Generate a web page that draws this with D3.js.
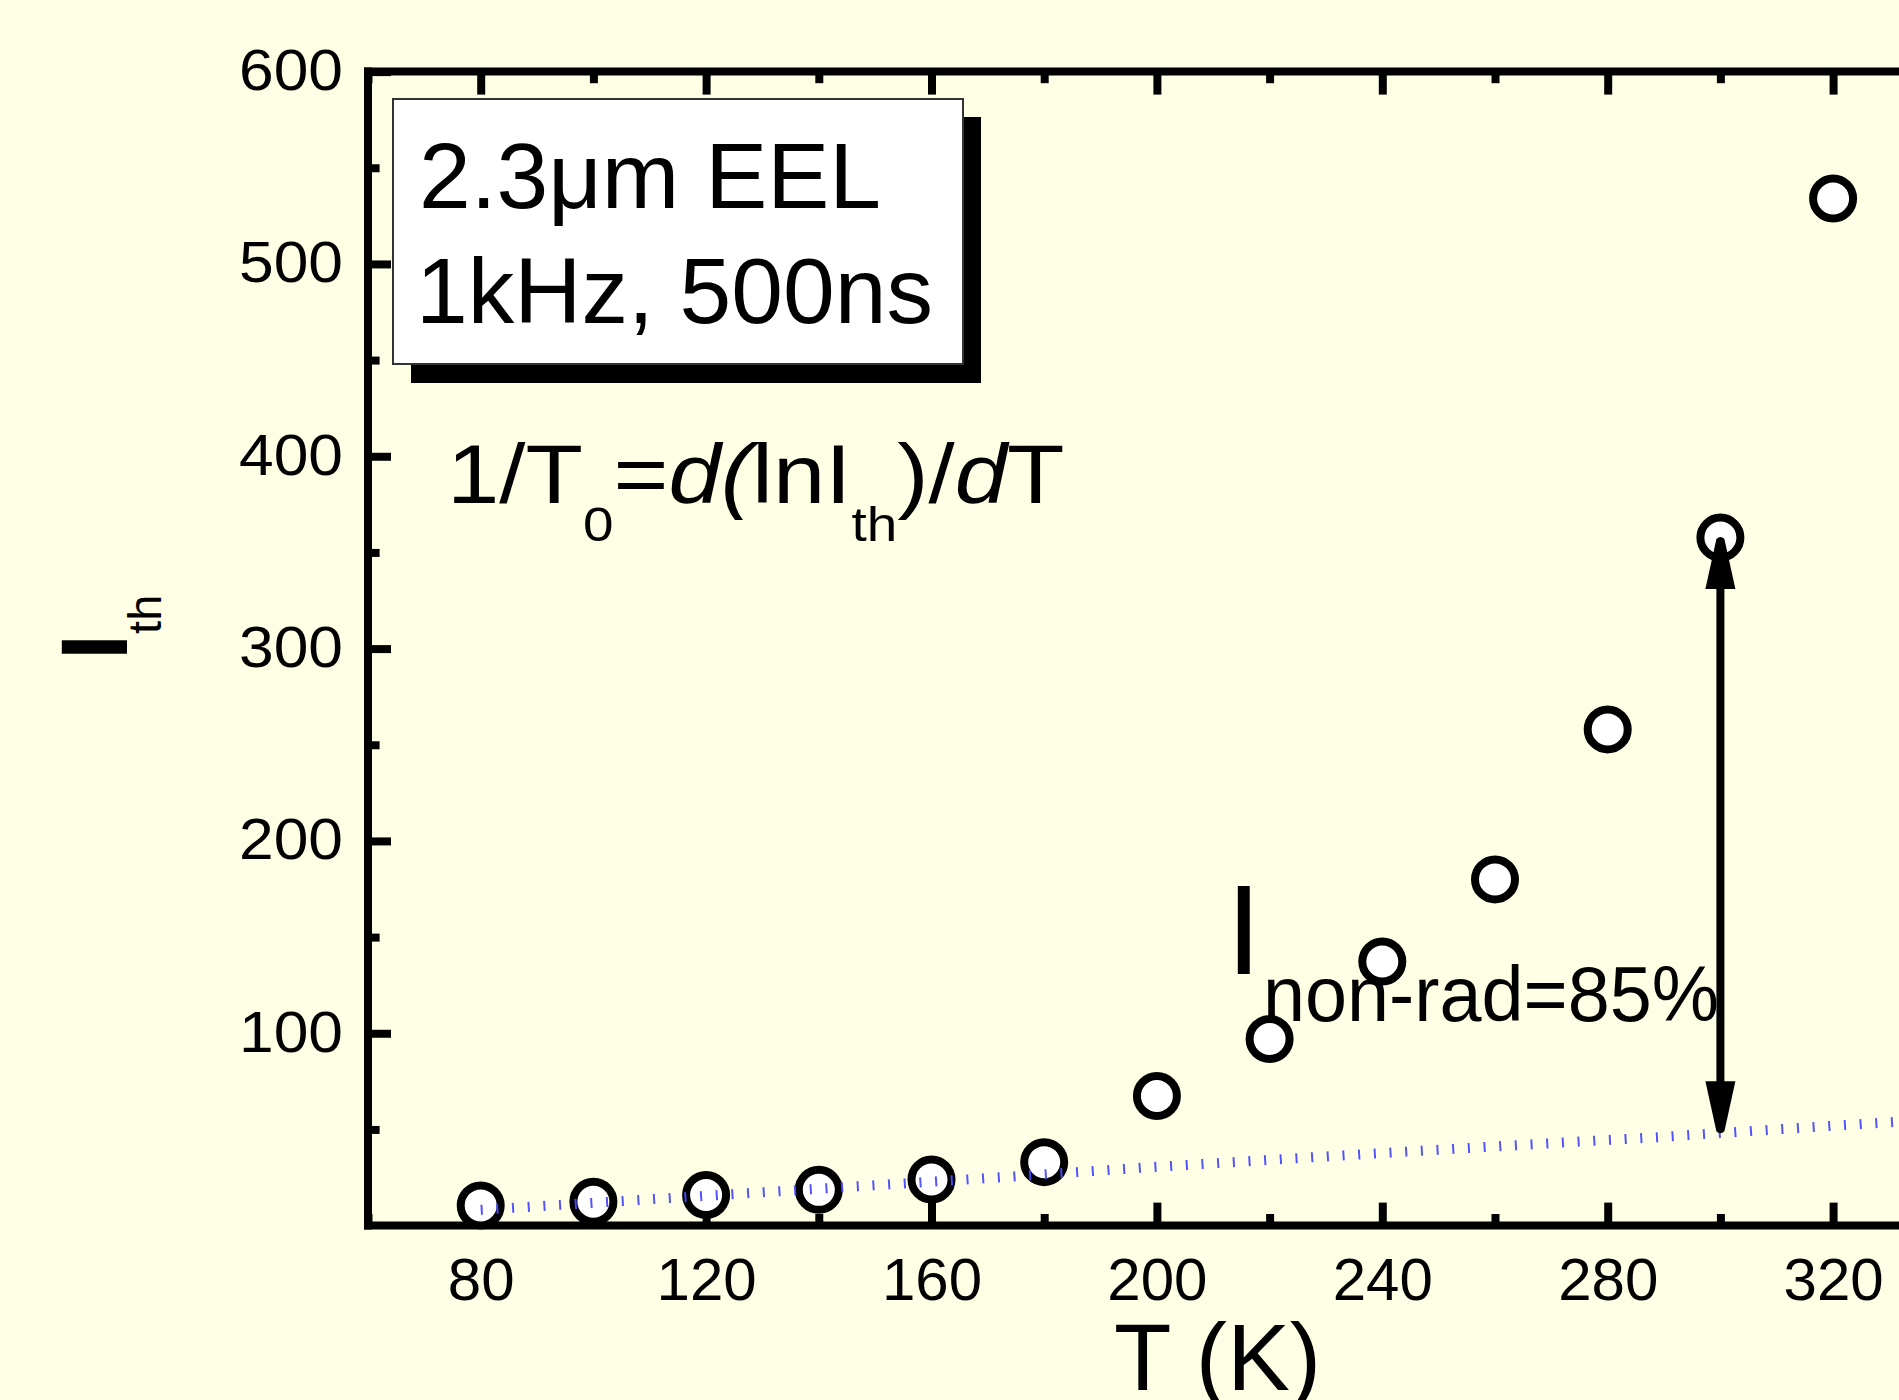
<!DOCTYPE html>
<html>
<head>
<meta charset="utf-8">
<script src="https://cdn.jsdelivr.net/npm/d3@7"></script>
<style>
  html, body { margin: 0; padding: 0; background: #FFFFE5; }
  svg { display: block; }
  text { font-family: "Liberation Sans", Arial, sans-serif; fill: #000; }
</style>
</head>
<body>
<svg id="chart" width="1899" height="1400"></svg>
<script>
// ---- data ----
const temps = [80, 100, 120, 140, 160, 180, 200, 220, 240, 260, 280, 300, 320];
const ith   = [10.5, 12.4, 15.9, 18.6, 24, 33, 67.4, 97, 137.3, 180, 258, 357.7, 534];

const fitT = [80, 108, 138, 168, 198, 228, 259, 289, 315, 340];
const fitI = [8.2, 13.3, 18.8, 24.3, 30.2, 35.6, 41, 46, 51, 55.5];

const xMajorTicks = [80, 120, 160, 200, 240, 280, 320];
const xMinorTicks = [60, 100, 140, 180, 220, 260, 300, 340];
const yMajorTicks = [100, 200, 300, 400, 500, 600];
const yMinorTicks = [50, 150, 250, 350, 450, 550];

const arrowT = 300, arrowLow = 48, arrowHigh = 358;

// ---- chart ----
const W = 1899, H = 1400;
const svg = d3.select("#chart");
svg.append("rect").attr("width", W).attr("height", H).attr("fill", "#FFFFE5");

const x = d3.scaleLinear().domain([60, 340]).range([368, 1945.8]);
const y = d3.scaleLinear().domain([0, 600]).range([1225.6, 71.6]);

const AX = 8;      // axis line width
const TW = 8;      // tick width
const MAJ = 19 + AX / 2, MIN = 7.6 + AX / 2;

function styleAxis(g) {
  g.select(".domain").remove();
  g.selectAll(".tick line").attr("stroke", "#000").attr("stroke-width", TW);
}

// bottom axis
svg.append("g").attr("transform", `translate(0,${y(0)})`)
  .call(d3.axisBottom(x).tickValues(xMajorTicks).tickSize(-MAJ).tickPadding(32).tickFormat(d3.format("d")))
  .call(styleAxis)
  .call(g => g.selectAll("text").attr("font-size", 60).attr("font-family", "Liberation Sans, Arial, sans-serif").attr("fill", "#000"));
svg.append("g").attr("transform", `translate(0,${y(0)})`)
  .call(d3.axisBottom(x).tickValues(xMinorTicks).tickSize(-MIN).tickFormat(""))
  .call(styleAxis);

// top axis
svg.append("g").attr("transform", `translate(0,${y(600)})`)
  .call(d3.axisTop(x).tickValues(xMajorTicks).tickSize(-MAJ).tickFormat(""))
  .call(styleAxis);
svg.append("g").attr("transform", `translate(0,${y(600)})`)
  .call(d3.axisTop(x).tickValues(xMinorTicks).tickSize(-MIN).tickFormat(""))
  .call(styleAxis);

// left axis
svg.append("g").attr("transform", `translate(${x(60)},0)`)
  .call(d3.axisLeft(y).tickValues(yMajorTicks).tickSize(-MAJ).tickPadding(25).tickFormat(d3.format("d")))
  .call(styleAxis)
  .call(g => g.selectAll("text").attr("font-size", 58).attr("dy", "0.31em")
      .attr("textLength", 104).attr("lengthAdjust", "spacingAndGlyphs")
      .attr("font-family", "Liberation Sans, Arial, sans-serif").attr("fill", "#000"));
svg.append("g").attr("transform", `translate(${x(60)},0)`)
  .call(d3.axisLeft(y).tickValues(yMinorTicks).tickSize(-MIN).tickFormat(""))
  .call(styleAxis);

// frame lines
const frame = svg.append("g").attr("stroke", "#000").attr("stroke-width", AX).attr("fill", "none");
frame.append("line").attr("x1", x(60)).attr("x2", x(60)).attr("y1", y(600) - AX / 2).attr("y2", y(0) + AX / 2);
frame.append("line").attr("x1", x(60) - AX / 2).attr("x2", x(340) + AX / 2).attr("y1", y(0)).attr("y2", y(0));
frame.append("line").attr("x1", x(60) - AX / 2).attr("x2", x(340) + AX / 2).attr("y1", y(600)).attr("y2", y(600));
frame.append("line").attr("x1", x(340)).attr("x2", x(340)).attr("y1", y(600)).attr("y2", y(0));

// data circles
svg.append("g").selectAll("circle").data(temps.map((t, i) => [t, ith[i]])).join("circle")
  .attr("cx", d => x(d[0])).attr("cy", d => y(d[1])).attr("r", 20)
  .attr("fill", "#FFFFFF").attr("stroke", "#000").attr("stroke-width", 8);

// dotted blue line (drawn over the circles)
const line = d3.line().x(d => x(d[0])).y(d => y(d[1]));
svg.append("path").datum(fitT.map((t, i) => [t, fitI[i]]))
  .attr("d", line).attr("fill", "none")
  .attr("stroke", "#4a4aff").attr("stroke-opacity", 0.95)
  .attr("stroke-width", 10).attr("stroke-dasharray", "2 13.7");

// double arrow
const ax = x(arrowT), yLow = y(arrowLow), yHigh = y(arrowHigh);
const HL = 52, HW = 15;
const arrow = svg.append("g");
arrow.append("line").attr("x1", ax).attr("x2", ax).attr("y1", yHigh + HL - 2).attr("y2", yLow - HL + 2)
  .attr("stroke", "#000").attr("stroke-width", 8);
arrow.append("path").attr("fill", "#000")
  .attr("d", `M${ax - 4},${yLow - 2} Q${ax},${yLow + 2} ${ax + 4},${yLow - 2} L${ax + HW},${yLow - HL} L${ax - HW},${yLow - HL} Z`);
arrow.append("path").attr("fill", "#000")
  .attr("d", `M${ax - 4},${yHigh + 2} Q${ax},${yHigh - 2} ${ax + 4},${yHigh + 2} L${ax + HW},${yHigh + HL} L${ax - HW},${yHigh + HL} Z`);

// legend box with shadow
svg.append("rect").attr("x", 411).attr("y", 117).attr("width", 570).attr("height", 266).attr("fill", "#000");
svg.append("rect").attr("x", 393).attr("y", 99).attr("width", 570).attr("height", 265)
  .attr("fill", "#FFFFFF").attr("stroke", "#333").attr("stroke-width", 2);
svg.append("text").attr("x", 419).attr("y", 208).attr("font-size", 93).text("2.3μm EEL");
svg.append("text").attr("x", 416).attr("y", 323).attr("font-size", 93).text("1kHz, 500ns");

// formula
const SUB = 38;
const f = svg.append("text").attr("transform", "translate(447,503) scale(1.12,1)").attr("font-size", 84);
f.append("tspan").text("1/T");
f.append("tspan").attr("font-size", 49).attr("dy", SUB).text("0");
f.append("tspan").attr("dy", -SUB).text("=");
f.append("tspan").attr("font-style", "italic").text("d(");
f.append("tspan").text("lnI");
f.append("tspan").attr("font-size", 49).attr("dy", SUB).text("th");
f.append("tspan").attr("dy", -SUB).text(")/");
f.append("tspan").attr("font-style", "italic").text("d");
f.append("tspan").text("T");

// I non-rad annotation
svg.append("text").attr("x", 1226).attr("y", 974).attr("font-size", 128).text("I");
svg.append("text").attr("x", 1263).attr("y", 1021).attr("font-size", 78)
  .attr("textLength", 456).attr("lengthAdjust", "spacingAndGlyphs").text("non-rad=85%");

// axis titles
svg.append("text").attr("x", 1114).attr("y", 1390).attr("font-size", 94).text("T (K)");
const yt = svg.append("text").attr("transform", "translate(127,660) rotate(-90)").attr("font-size", 94);
yt.append("tspan").attr("font-weight", "bold").text("I");
yt.append("tspan").attr("font-size", 47).attr("dy", 34).text("th");
</script>
</body>
</html>
